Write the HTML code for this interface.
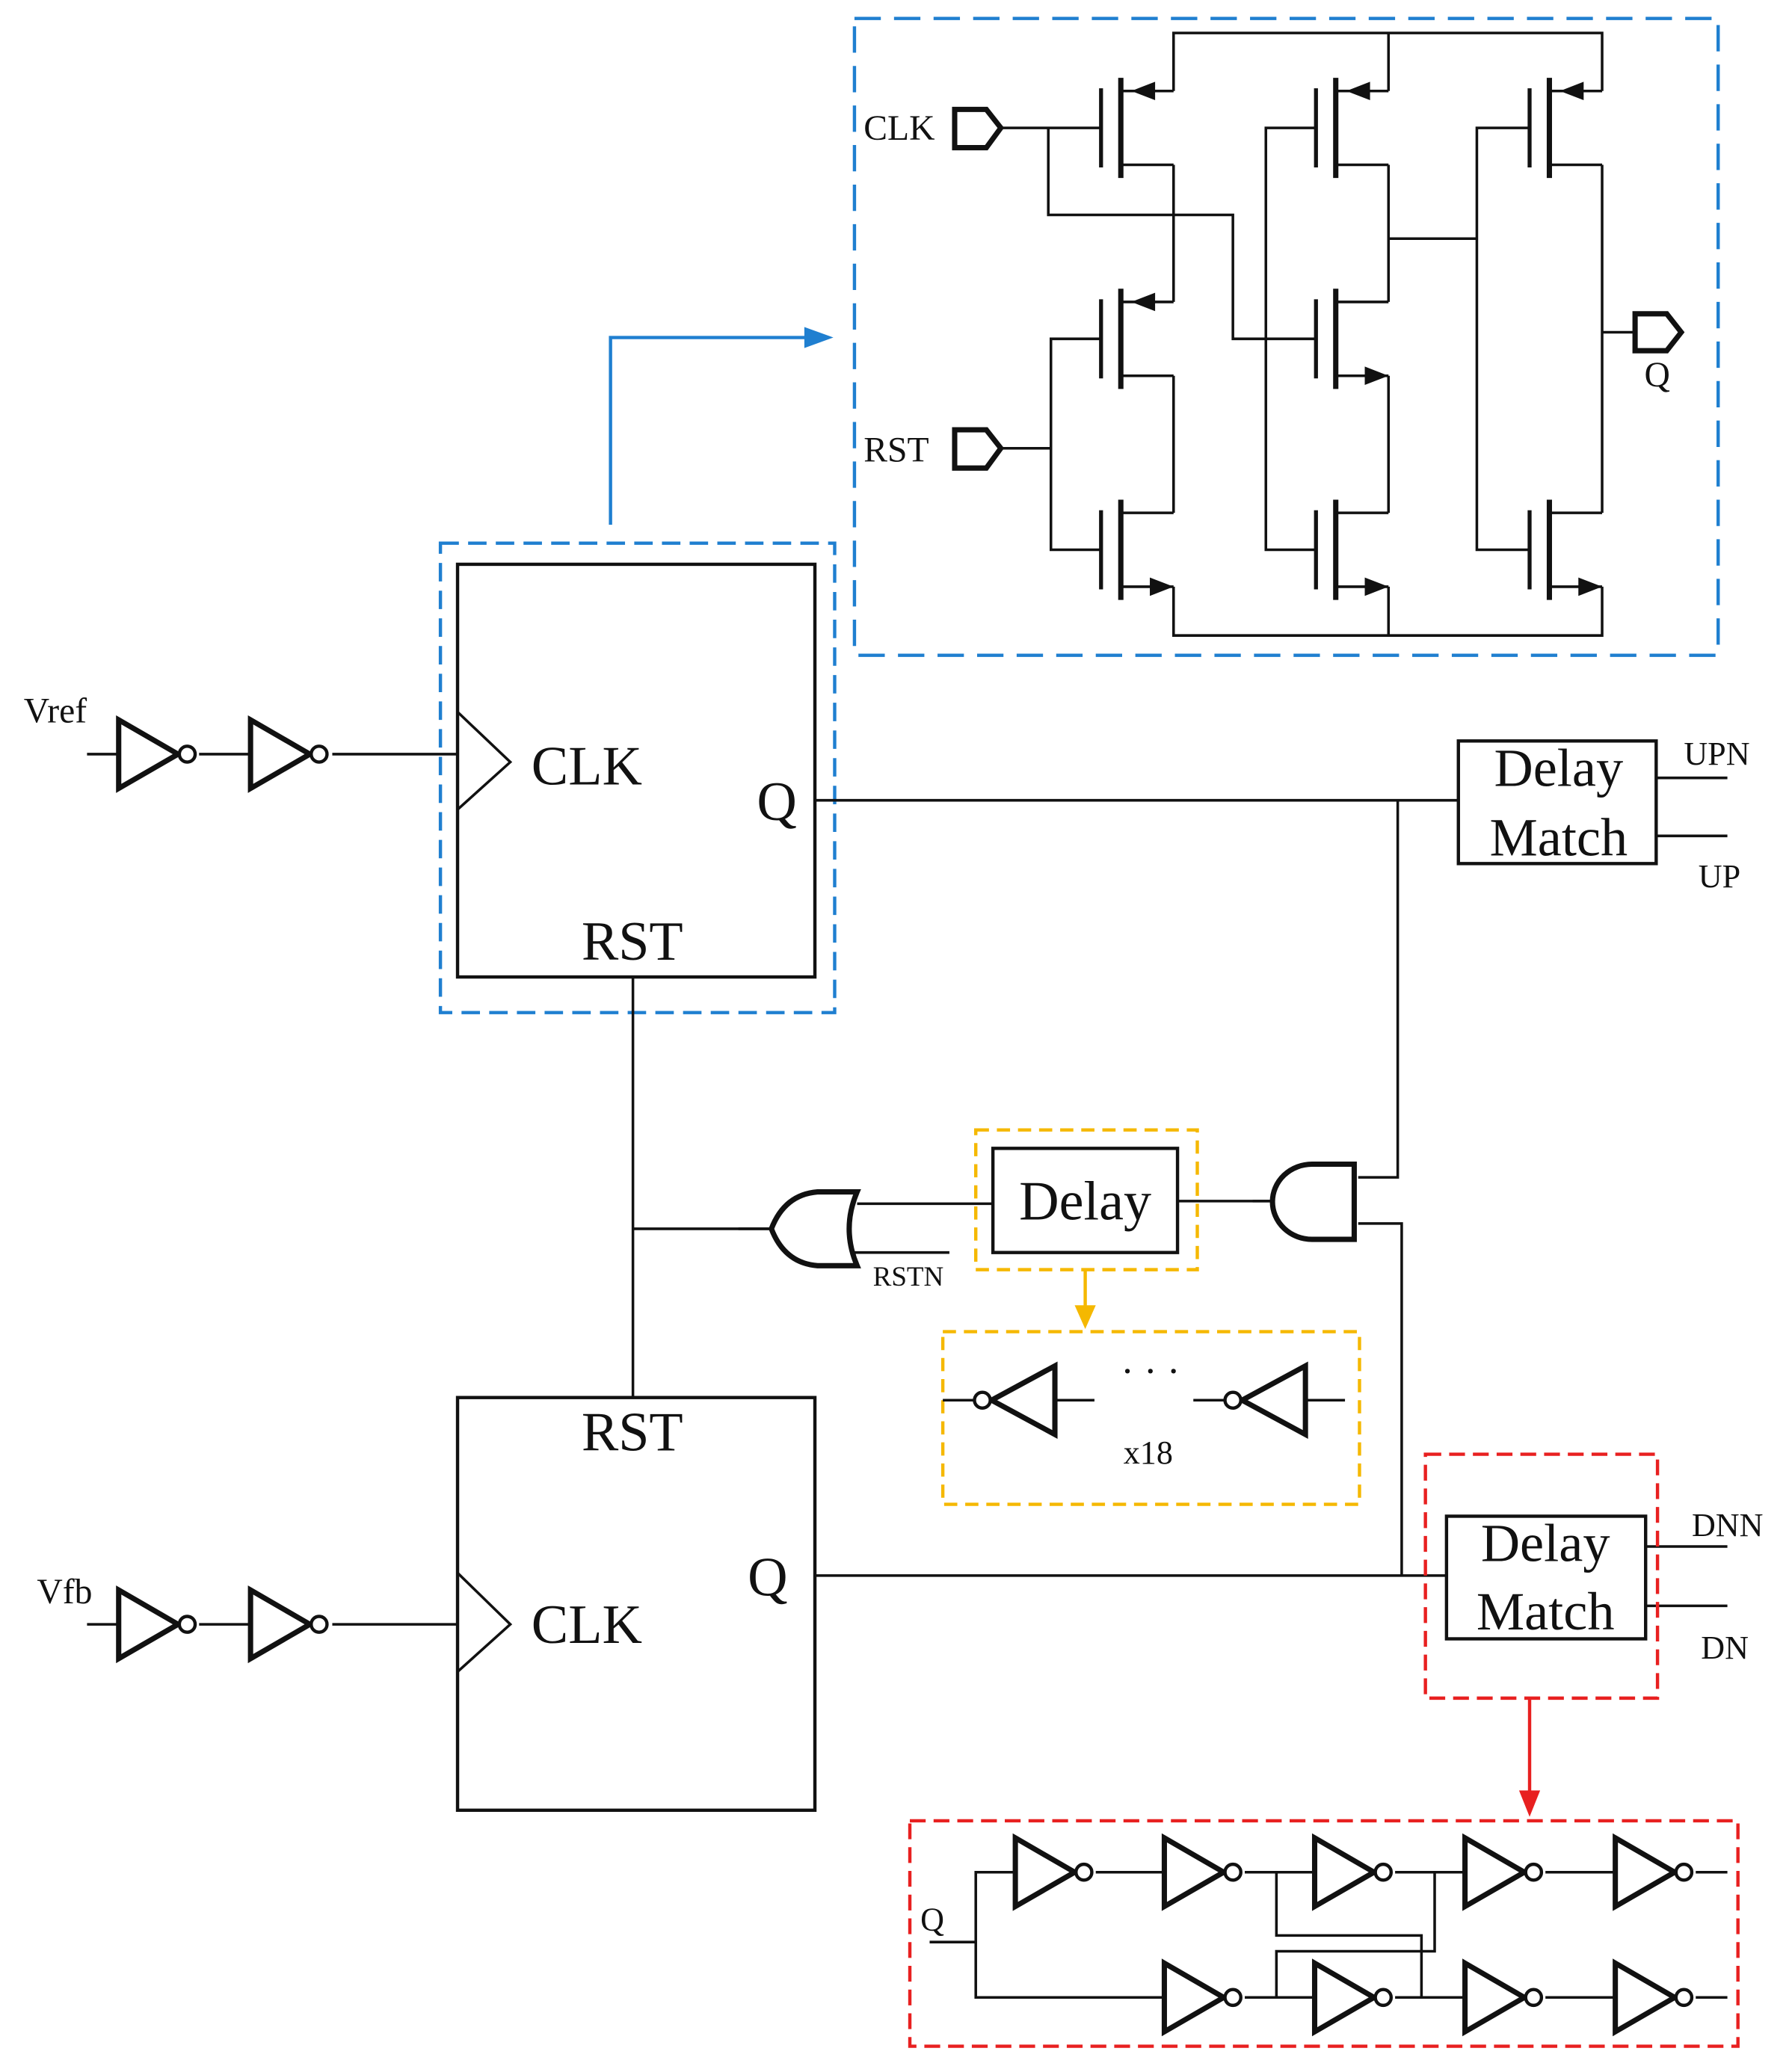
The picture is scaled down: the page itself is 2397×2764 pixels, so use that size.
<!DOCTYPE html>
<html><head><style>
html,body{margin:0;padding:0;background:#fff;}
svg{display:block;}
text{font-family:"Liberation Serif",serif;fill:#111;}
</style></head><body>
<svg width="2397" height="2764" viewBox="0 0 1359 1567" preserveAspectRatio="none" xmlns="http://www.w3.org/2000/svg">
<defs>
<g id="pm">
 <line x1="-15" y1="-30" x2="-15" y2="30" stroke="#111" stroke-width="3"/>
 <line x1="0" y1="-38" x2="0" y2="38" stroke="#111" stroke-width="4"/>
 <polyline points="0,-28 40,-28" fill="none" stroke="#111" stroke-width="2"/>
 <polyline points="0,28 40,28" fill="none" stroke="#111" stroke-width="2"/>
 <polygon points="8,-28 26,-35 26,-21" fill="#111"/>
</g>
<g id="nm">
 <line x1="-15" y1="-30" x2="-15" y2="30" stroke="#111" stroke-width="3"/>
 <line x1="0" y1="-38" x2="0" y2="38" stroke="#111" stroke-width="4"/>
 <polyline points="0,-28 40,-28" fill="none" stroke="#111" stroke-width="2"/>
 <polyline points="0,28 40,28" fill="none" stroke="#111" stroke-width="2"/>
 <polygon points="40,28 22,21 22,35" fill="#111"/>
</g>
<g id="inv">
 <polygon points="0,-26 45,0 0,26" fill="none" stroke="#111" stroke-width="4"/>
 <circle cx="52" cy="0" r="6" fill="#fff" stroke="#111" stroke-width="2.5"/>
</g>
<g id="invl">
 <polygon points="0,0 48,-26 48,26" fill="none" stroke="#111" stroke-width="4"/>
 <circle cx="-7" cy="0" r="6" fill="#fff" stroke="#111" stroke-width="2.5"/>
</g>
</defs>
<g stroke="#111" stroke-width="2" fill="none">
<polyline points="890,69 890,25 1215,25 1215,69"/>
<line x1="1053" y1="25" x2="1053" y2="69"/>
<polyline points="890,445 890,482 1215,482 1215,445"/>
<line x1="1053" y1="445" x2="1053" y2="482"/>
<line x1="890" y1="125" x2="890" y2="229"/>
<line x1="890" y1="285" x2="890" y2="389"/>
<line x1="1053" y1="125" x2="1053" y2="229"/>
<line x1="1053" y1="285" x2="1053" y2="389"/>
<line x1="1215" y1="125" x2="1215" y2="389"/>
<line x1="760" y1="97" x2="835" y2="97"/>
<polyline points="795,97 795,163 935,163 935,257 998,257"/>
<polyline points="998,97 960,97 960,417 998,417"/>
<polyline points="1053,181 1120,181"/>
<polyline points="1160,97 1120,97 1120,417 1160,417"/>
<polyline points="835,257 797,257 797,417 835,417"/>
<line x1="760" y1="340" x2="797" y2="340"/>
<line x1="1215" y1="252" x2="1240" y2="252"/>
</g>
<use href="#pm" x="850" y="97"/><use href="#pm" x="850" y="257"/><use href="#nm" x="850" y="417"/>
<use href="#pm" x="1013" y="97"/><use href="#nm" x="1013" y="257"/><use href="#nm" x="1013" y="417"/>
<use href="#pm" x="1175" y="97"/><use href="#nm" x="1175" y="417"/>
<g stroke="#111" stroke-width="4" fill="#fff">
<polygon points="724,83 748,83 759,97 748,112 724,112"/>
<polygon points="724,326 748,326 759,340 748,355 724,355"/>
<polygon points="1240,238 1264,238 1275,252 1264,266 1240,266"/>
</g>
<text x="655" y="106" font-size="27">CLK</text>
<text x="655" y="350" font-size="27">RST</text>
<text x="1247" y="293" font-size="27">Q</text>
<rect x="648" y="14" width="655" height="483" fill="none" stroke="#1f7fd0" stroke-width="2.5" stroke-dasharray="20,10"/>
<polyline points="463,398 463,256 612,256" fill="none" stroke="#1f7fd0" stroke-width="2.5"/>
<polygon points="632,256 610,248 610,264" fill="#1f7fd0"/>

<rect x="334" y="412" width="299" height="356" fill="none" stroke="#1f7fd0" stroke-width="2.5" stroke-dasharray="14,7"/>
<rect x="347" y="428" width="271" height="313" fill="none" stroke="#111" stroke-width="2.5"/>
<polyline points="347,540 387,578 347,614" fill="none" stroke="#111" stroke-width="2"/>
<text x="403" y="595" font-size="42">CLK</text>
<text x="574" y="622" font-size="42">Q</text>
<text x="441" y="728" font-size="42">RST</text>
<text x="18" y="548" font-size="27">Vref</text>
<g stroke="#111" stroke-width="2" fill="none">
<line x1="66" y1="572" x2="90" y2="572"/><line x1="151" y1="572" x2="190" y2="572"/><line x1="252" y1="572" x2="347" y2="572"/>
<line x1="66" y1="1232" x2="90" y2="1232"/><line x1="151" y1="1232" x2="190" y2="1232"/><line x1="252" y1="1232" x2="347" y2="1232"/>
<line x1="618" y1="607" x2="1106" y2="607"/>
<polyline points="1060,607 1060,893 1030,893"/>
<polyline points="1030,928 1063,928 1063,1195"/>
<line x1="893" y1="911" x2="965" y2="911"/>
<line x1="650" y1="913" x2="753" y2="913"/>
<line x1="646" y1="950" x2="720" y2="950"/>
<line x1="480" y1="932" x2="585" y2="932"/>
<line x1="480" y1="741" x2="480" y2="1060"/>
<line x1="618" y1="1195" x2="1097" y2="1195"/>
<line x1="1256" y1="590" x2="1310" y2="590"/><line x1="1256" y1="634" x2="1310" y2="634"/>
<line x1="1248" y1="1173" x2="1310" y2="1173"/><line x1="1248" y1="1218" x2="1310" y2="1218"/>
</g>
<use href="#inv" x="90" y="572"/><use href="#inv" x="190" y="572"/>
<use href="#inv" x="90" y="1232"/><use href="#inv" x="190" y="1232"/>
<rect x="1106" y="562" width="150" height="93" fill="none" stroke="#111" stroke-width="2.5"/>
<text x="1182" y="596" font-size="41" text-anchor="middle">Delay</text>
<text x="1182" y="649" font-size="41" text-anchor="middle">Match</text>
<text x="1277" y="580" font-size="25">UPN</text>
<text x="1288" y="673" font-size="25">UP</text>
<path d="M1027,883 L995,883 A30,28.5 0 0 0 995,940 L1027,940 Z" fill="none" stroke="#111" stroke-width="4"/>
<line x1="950" y1="911" x2="966" y2="911" stroke="#111" stroke-width="2"/>
<path d="M650,904 L620,904 Q595,906 585,932 Q595,958 620,960 L650,960 Q638,932 650,904 Z" fill="none" stroke="#111" stroke-width="4"/>
<line x1="560" y1="932" x2="586" y2="932" stroke="#111" stroke-width="2"/>
<text x="662" y="975" font-size="21">RSTN</text>
<rect x="740" y="857" width="168" height="106" fill="none" stroke="#f5b800" stroke-width="2.5" stroke-dasharray="10,6"/>
<rect x="753" y="871" width="140" height="79" fill="none" stroke="#111" stroke-width="2.5"/>
<text x="823" y="925" font-size="42" text-anchor="middle">Delay</text>
<line x1="823" y1="963" x2="823" y2="993" stroke="#f5b800" stroke-width="2.5"/>
<polygon points="823,1008 815,990 831,990" fill="#f5b800"/>
<rect x="715" y="1010" width="316" height="131" fill="none" stroke="#f5b800" stroke-width="2.5" stroke-dasharray="10,6"/>
<g stroke="#111" stroke-width="2"><line x1="715" y1="1062" x2="738" y2="1062"/><line x1="800" y1="1062" x2="830" y2="1062"/><line x1="905" y1="1062" x2="928" y2="1062"/><line x1="990" y1="1062" x2="1020" y2="1062"/></g>
<use href="#invl" x="752" y="1062"/><use href="#invl" x="942" y="1062"/>
<text x="850" y="1050" font-size="30">· · ·</text>
<text x="852" y="1110" font-size="25">x18</text>
<rect x="347" y="1060" width="271" height="313" fill="none" stroke="#111" stroke-width="2.5"/>
<polyline points="347,1193 387,1232 347,1268" fill="none" stroke="#111" stroke-width="2"/>
<text x="441" y="1100" font-size="42">RST</text>
<text x="403" y="1246" font-size="42">CLK</text>
<text x="567" y="1210" font-size="42">Q</text>
<text x="28" y="1216" font-size="27">Vfb</text>
<rect x="1081" y="1103" width="176" height="185" fill="none" stroke="#e82020" stroke-width="2.5" stroke-dasharray="12,6"/>
<rect x="1097" y="1150" width="151" height="93" fill="none" stroke="#111" stroke-width="2.5"/>
<text x="1172" y="1184" font-size="41" text-anchor="middle">Delay</text>
<text x="1172" y="1236" font-size="41" text-anchor="middle">Match</text>
<text x="1283" y="1165" font-size="25">DNN</text>
<text x="1290" y="1258" font-size="25">DN</text>
<line x1="1160" y1="1288" x2="1160" y2="1362" stroke="#e82020" stroke-width="2.5"/>
<polygon points="1160,1378 1152,1358 1168,1358" fill="#e82020"/>
<rect x="690" y="1381" width="628" height="171" fill="none" stroke="#e82020" stroke-width="2.5" stroke-dasharray="12,6"/>
<text x="698" y="1464" font-size="25">Q</text>
<g stroke="#111" stroke-width="2" fill="none">
<polyline points="705,1473 740,1473"/>
<polyline points="770,1420 740,1420 740,1515 883,1515"/>
<line x1="831" y1="1420" x2="883" y2="1420"/><line x1="944" y1="1420" x2="997" y2="1420"/><line x1="1058" y1="1420" x2="1111" y2="1420"/><line x1="1172" y1="1420" x2="1225" y2="1420"/><line x1="1286" y1="1420" x2="1310" y2="1420"/>
<line x1="944" y1="1515" x2="997" y2="1515"/><line x1="1058" y1="1515" x2="1111" y2="1515"/><line x1="1172" y1="1515" x2="1225" y2="1515"/><line x1="1286" y1="1515" x2="1310" y2="1515"/>
<polyline points="968,1420 968,1468 1078,1468 1078,1515"/>
<polyline points="1088,1420 1088,1480 968,1480 968,1515"/>
</g>
<use href="#inv" x="770" y="1420"/><use href="#inv" x="883" y="1420"/><use href="#inv" x="997" y="1420"/><use href="#inv" x="1111" y="1420"/><use href="#inv" x="1225" y="1420"/>
<use href="#inv" x="883" y="1515"/><use href="#inv" x="997" y="1515"/><use href="#inv" x="1111" y="1515"/><use href="#inv" x="1225" y="1515"/>
</svg>
</body></html>
